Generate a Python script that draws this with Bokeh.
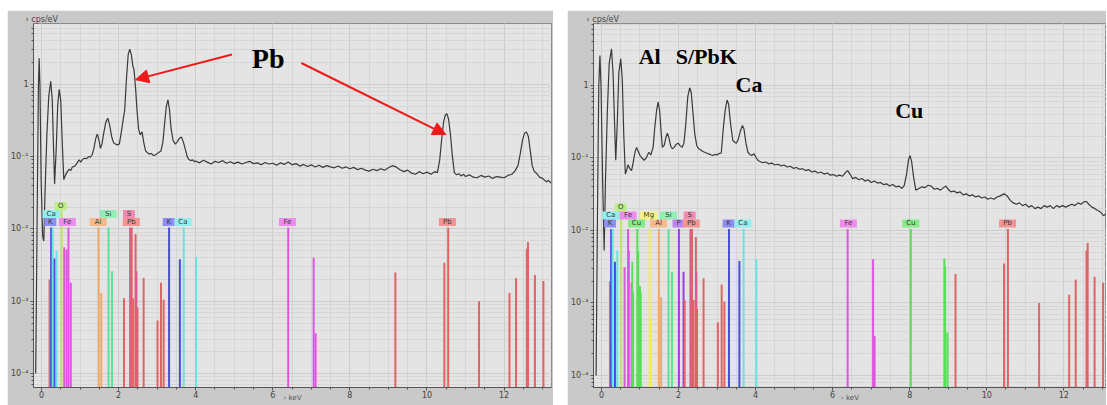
from bokeh.plotting import figure
from bokeh.layouts import row
from bokeh.models import (ColumnDataSource, Range1d, SingleIntervalTicker,
                          CustomJSTickFormatter, Arrow, NormalHead)
from bokeh.core.properties import value
from bokeh.embed import file_html
from bokeh.resources import INLINE

# ---------------- data ----------------
left_energy = [-0.15, -0.11, -0.08, -0.06, -0.04, -0.01, 0.03, 0.06, 0.09, 0.14, 0.19, 0.24, 0.28, 0.31,
               0.34, 0.38, 0.42, 0.46, 0.50, 0.54, 0.58, 0.62, 0.67, 0.72, 0.76, 0.80, 0.85, 0.90, 0.95,
               0.98, 1.02, 1.07, 1.12, 1.17, 1.22, 1.27, 1.32, 1.36, 1.41, 1.45, 1.49, 1.53, 1.57, 1.62,
               1.67, 1.72, 1.77, 1.82, 1.87, 1.92, 1.97, 2.02, 2.06, 2.11, 2.16, 2.20, 2.25, 2.29, 2.33,
               2.37, 2.40, 2.44, 2.48, 2.52, 2.56, 2.61, 2.65, 2.70, 2.75, 2.80, 2.85, 2.90, 2.95, 3.00,
               3.05, 3.10, 3.15, 3.20, 3.24, 3.28, 3.32, 3.36, 3.41, 3.47, 3.52, 3.58, 3.63, 3.68, 3.73,
               3.78, 3.82, 3.87, 3.92, 3.97, 4.0, 4.1, 4.2, 4.3, 4.4, 4.5, 4.6, 4.7, 4.8, 4.9, 5.0, 5.1,
               5.2, 5.3, 5.4, 5.5, 5.6, 5.7, 5.8, 5.9, 6.0, 6.1, 6.2, 6.3, 6.4, 6.5, 6.6, 6.7, 6.8, 6.9,
               7.0, 7.1, 7.2, 7.3, 7.4, 7.5, 7.6, 7.7, 7.8, 7.9, 8.0, 8.1, 8.2, 8.3, 8.4, 8.5, 8.6, 8.7,
               8.8, 8.9, 9.0, 9.1, 9.2, 9.3, 9.4, 9.5, 9.6, 9.7, 9.8, 9.9, 10.0, 10.1, 10.2, 10.27, 10.33,
               10.38, 10.43, 10.48, 10.52, 10.56, 10.61, 10.66, 10.71, 10.77, 10.83, 10.88, 10.95, 11.0,
               11.1, 11.2, 11.3, 11.4, 11.5, 11.6, 11.7, 11.8, 11.9, 12.0, 12.1, 12.2, 12.28, 12.36,
               12.42, 12.48, 12.53, 12.58, 12.63, 12.68, 12.73, 12.78, 12.85, 12.92, 13.0, 13.05, 13.1,
               13.15, 13.22]
left_cps = [0.0001, 0.02, 0.9, 2.3, 1.0, 0.05, 0.008, 0.0068, 0.03, 0.2, 0.7, 1.1, 0.6, 0.15,
            0.042, 0.12, 0.5, 0.85, 0.6, 0.15, 0.048, 0.055, 0.062, 0.067, 0.064, 0.072, 0.073, 0.078, 0.086,
            0.09, 0.084, 0.092, 0.095, 0.094, 0.1, 0.098, 0.108, 0.13, 0.18, 0.205, 0.17, 0.13, 0.15, 0.22,
            0.3, 0.34, 0.27, 0.19, 0.155, 0.149, 0.145, 0.15, 0.2, 0.3, 0.45, 1.1, 2.6, 3.07, 2.6,
            1.8, 1.6, 0.9, 0.42, 0.24, 0.2, 0.22, 0.16, 0.12, 0.113, 0.108, 0.111, 0.104, 0.105, 0.11,
            0.115, 0.12, 0.16, 0.31, 0.5, 0.61, 0.45, 0.25, 0.17, 0.149, 0.16, 0.18, 0.186, 0.16, 0.127,
            0.1, 0.092, 0.088, 0.09, 0.085, 0.087, 0.082, 0.089, 0.084, 0.079, 0.086, 0.083, 0.088, 0.081, 0.085, 0.08, 0.084,
            0.079, 0.083, 0.086, 0.08, 0.082, 0.077, 0.083, 0.079, 0.081, 0.076, 0.082, 0.078, 0.084, 0.077, 0.08, 0.074, 0.078, 0.073,
            0.077, 0.072, 0.076, 0.071, 0.075, 0.072, 0.07, 0.074, 0.069, 0.072, 0.068, 0.071, 0.066, 0.069, 0.065, 0.063, 0.067, 0.064,
            0.068, 0.065, 0.07, 0.075, 0.072, 0.066, 0.062, 0.065, 0.059, 0.057, 0.062, 0.058, 0.061, 0.057, 0.062, 0.06, 0.09,
            0.17, 0.3, 0.38, 0.39, 0.33, 0.2, 0.1, 0.06, 0.056, 0.058, 0.054, 0.057, 0.053,
            0.056, 0.052, 0.051, 0.055, 0.052, 0.054, 0.05, 0.053, 0.052, 0.051, 0.055, 0.057, 0.063, 0.075,
            0.11, 0.17, 0.21, 0.22, 0.19, 0.12, 0.075, 0.063, 0.058, 0.052, 0.05, 0.047, 0.045,
            0.047, 0.043]

right_energy = [-0.14, -0.10, -0.07, -0.04, -0.01, 0.03, 0.07, 0.10, 0.15, 0.20, 0.26, 0.30, 0.34, 0.37,
                0.41, 0.45, 0.50, 0.54, 0.58, 0.62, 0.66, 0.69, 0.73, 0.78, 0.82, 0.87, 0.91, 0.95, 1.0,
                1.05, 1.11, 1.16, 1.23, 1.28, 1.34, 1.38, 1.43, 1.47, 1.51, 1.55, 1.58, 1.63, 1.67, 1.71,
                1.75, 1.80, 1.84, 1.89, 1.94, 1.99, 2.04, 2.09, 2.14, 2.19, 2.24, 2.29, 2.33, 2.37, 2.42,
                2.47, 2.52, 2.57, 2.62, 2.68, 2.74, 2.80, 2.85, 2.89, 2.95, 3.0, 3.05, 3.11, 3.16, 3.21,
                3.26, 3.30, 3.35, 3.41, 3.46, 3.50, 3.55, 3.61, 3.66, 3.70, 3.75, 3.80, 3.85, 3.90, 3.96,
                4.02, 4.06, 4.1, 4.18, 4.26, 4.34, 4.42, 4.5, 4.58, 4.66, 4.74, 4.82, 4.9, 4.98, 5.06,
                5.14, 5.22, 5.3, 5.38, 5.46, 5.54, 5.62, 5.7, 5.78, 5.86, 5.94, 6.02, 6.1, 6.18, 6.26,
                6.32, 6.39, 6.45, 6.52, 6.6, 6.68, 6.76, 6.84, 6.92, 7.0, 7.08, 7.16, 7.24, 7.32, 7.4,
                7.48, 7.56, 7.64, 7.72, 7.8, 7.86, 7.92, 7.97, 8.01, 8.05, 8.1, 8.16, 8.24, 8.32, 8.4,
                8.48, 8.56, 8.64, 8.72, 8.8, 8.88, 8.94, 9.0, 9.07, 9.15, 9.23, 9.31, 9.39, 9.47, 9.55,
                9.63, 9.71, 9.79, 9.87, 9.95, 10.03, 10.11, 10.19, 10.27, 10.35, 10.45, 10.53, 10.61,
                10.69, 10.77, 10.85, 10.93, 11.01, 11.09, 11.17, 11.25, 11.33, 11.41, 11.49, 11.57, 11.65,
                11.73, 11.81, 11.89, 11.97, 12.05, 12.13, 12.21, 12.29, 12.37, 12.45, 12.53, 12.59, 12.65,
                12.73, 12.81, 12.87, 12.95, 13.03, 13.1]
right_cps = [0.0001, 0.03, 1.0, 2.6, 0.9, 0.05, 0.0053, 0.04, 0.4, 2.0, 3.2, 1.5, 0.3, 0.093,
             0.3, 1.5, 2.33, 1.2, 0.2, 0.06, 0.07, 0.081, 0.072, 0.067, 0.085, 0.12, 0.14, 0.125, 0.108,
             0.1, 0.093, 0.1, 0.12, 0.11, 0.14, 0.25, 0.45, 0.59, 0.45, 0.22, 0.14, 0.15, 0.19, 0.22,
             0.19, 0.145, 0.134, 0.14, 0.155, 0.16, 0.148, 0.14, 0.16, 0.3, 0.7, 0.93, 0.8, 0.45, 0.22,
             0.15, 0.134, 0.13, 0.124, 0.12, 0.116, 0.113, 0.11, 0.108, 0.112, 0.11, 0.115, 0.117, 0.25, 0.45,
             0.63, 0.55, 0.3, 0.174, 0.165, 0.16, 0.18, 0.24, 0.28, 0.25, 0.16, 0.12, 0.112, 0.108, 0.114,
             0.1, 0.093, 0.09, 0.086, 0.088, 0.083, 0.085, 0.08, 0.082, 0.078, 0.08, 0.075, 0.077, 0.072, 0.074,
             0.07, 0.071, 0.067, 0.069, 0.064, 0.066, 0.062, 0.064, 0.06, 0.062, 0.058, 0.059, 0.056, 0.058, 0.056,
             0.062, 0.067, 0.06, 0.052, 0.054, 0.05, 0.052, 0.048, 0.05, 0.046, 0.048, 0.045, 0.046, 0.043, 0.044,
             0.041, 0.043, 0.04, 0.041, 0.038, 0.042, 0.06, 0.095, 0.108, 0.09, 0.055, 0.036, 0.038, 0.04, 0.039,
             0.042, 0.041, 0.037, 0.038, 0.036, 0.039, 0.041, 0.037, 0.034, 0.035, 0.033, 0.034, 0.031, 0.032, 0.03,
             0.031, 0.029, 0.03, 0.028, 0.029, 0.027, 0.028, 0.027, 0.029, 0.03, 0.032, 0.03, 0.026,
             0.024, 0.023, 0.024, 0.022, 0.023, 0.021, 0.022, 0.02, 0.021, 0.02, 0.022, 0.021, 0.022,
             0.02, 0.022, 0.021, 0.022, 0.021, 0.022, 0.023, 0.022, 0.024, 0.023, 0.025, 0.025, 0.023,
             0.021, 0.02, 0.019, 0.018, 0.016, 0.017]

# element marker lines: element, energy (keV), relative height (cps/eV)
left_line_elem = ["Pb", "K", "Ca", "K", "Ca", "O", "Fe", "Fe", "Fe", "Fe", "Al", "Al", "Si", "Si",
                  "Pb", "S", "Pb", "Pb", "Pb", "S", "Pb", "Pb", "Pb", "Pb", "Pb", "K", "K", "Ca", "Ca",
                  "Fe", "Fe", "Fe", "Pb", "Pb", "Pb", "Pb", "Pb", "Pb", "Pb", "Pb", "Pb", "Pb"]
left_line_kev = [0.21, 0.25, 0.29, 0.34, 0.39, 0.52, 0.59, 0.65, 0.70, 0.76, 1.48, 1.55, 1.74, 1.83,
                 2.14, 2.30, 2.34, 2.38, 2.44, 2.46, 2.49, 2.65, 3.01, 3.10, 3.17, 3.31, 3.59, 3.69, 4.01,
                 6.40, 7.06, 7.11, 9.18, 10.45, 10.55, 11.35, 12.14, 12.31, 12.59, 12.62, 12.80, 13.02]
left_line_top = [0.002, 0.0105, 0.0105, 0.0039, 0.005, 0.018, 0.0056, 0.0052, 0.0105, 0.0018, 0.0105, 0.0013, 0.0105, 0.0026,
                 0.0011, 0.0105, 0.0105, 0.0011, 0.0085, 0.0026, 0.00082, 0.0021, 0.00054, 0.0018, 0.00105, 0.0105, 0.0038, 0.0105, 0.0041,
                 0.0105, 0.004, 0.00036, 0.0025, 0.0034, 0.0105, 0.001, 0.0013, 0.0021, 0.0053, 0.0066, 0.0023, 0.0019]

right_line_elem = ["Pb", "K", "Ca", "K", "Ca", "O", "Fe", "Fe", "Fe", "Fe", "Cu", "Cu", "Cu", "Cu", "Cu", "Cu",
                   "Mg", "Mg", "Al", "Al", "Si", "Si", "P", "P", "Pb", "S", "Pb", "Pb", "Pb", "S", "Pb", "Pb",
                   "Pb", "Pb", "Pb", "K", "K", "Ca", "Ca", "Fe", "Fe", "Fe", "Cu", "Cu", "Cu", "Cu",
                   "Pb", "Pb", "Pb", "Pb", "Pb", "Pb", "Pb", "Pb", "Pb", "Pb"]
right_line_kev = [0.22, 0.25, 0.29, 0.35, 0.41, 0.51, 0.60, 0.69, 0.71, 0.78, 0.80, 0.82, 0.93, 0.95, 1.00, 1.02,
                  1.25, 1.28, 1.49, 1.55, 1.74, 1.83, 2.01, 2.13, 2.16, 2.31, 2.35, 2.39, 2.45, 2.46, 2.48, 2.65,
                  3.02, 3.12, 3.19, 3.31, 3.58, 3.69, 4.02, 6.39, 7.05, 7.09, 8.03, 8.90, 8.92, 8.98,
                  9.19, 10.45, 10.55, 11.36, 12.14, 12.31, 12.59, 12.62, 12.80, 13.02]
right_line_top = [0.002, 0.0105, 0.0105, 0.0037, 0.0053, 0.019, 0.0031, 0.0105, 0.0053, 0.0019, 0.0037, 0.0014, 0.0105, 0.0052, 0.0017, 0.0014,
                  0.0105, 0.00061, 0.0105, 0.0012, 0.0105, 0.0027, 0.0105, 0.0027, 0.0011, 0.0105, 0.0105, 0.0011, 0.0081, 0.0027, 0.00084, 0.0022,
                  0.00054, 0.0018, 0.00105, 0.0105, 0.0038, 0.0105, 0.004, 0.0105, 0.004, 0.00035, 0.0105, 0.0041, 0.0032, 0.00039,
                  0.0025, 0.0035, 0.0105, 0.001, 0.0013, 0.0021, 0.0053, 0.0067, 0.0023, 0.0019]

# element tags: element, energy, stacking row
left_tag_elem = ["O", "Ca", "K", "Fe", "Al", "Si", "S", "Pb", "K", "Ca", "Fe", "Pb"]
left_tag_kev = [0.50, 0.25, 0.23, 0.67, 1.47, 1.73, 2.27, 2.33, 3.30, 3.67, 6.38, 10.53]
left_tag_row = [2, 1, 0, 0, 0, 1, 1, 0, 0, 0, 0, 0]

right_tag_elem = ["O", "Ca", "Fe", "Mg", "Si", "S", "K", "Cu", "Al", "P", "Pb", "K", "Ca", "Fe", "Cu", "Pb"]
right_tag_kev = [0.50, 0.24, 0.69, 1.23, 1.74, 2.29, 0.22, 0.91, 1.48, 2.00, 2.33, 3.30, 3.67, 6.41, 8.03, 10.54]
right_tag_row = [2, 1, 1, 1, 1, 1, 0, 0, 0, 0, 0, 0, 0, 0, 0, 0]

# annotations
left_note_text = ["Pb"]
left_note_kev = [5.88]
left_note_cps = [2.25]
left_arrow_start = [(4.94, 2.59), (6.74, 1.97)]
left_arrow_end = [(2.44, 1.16), (10.49, 0.202)]

right_note_text = ["Al", "S/PbK", "Ca", "Cu"]
right_note_kev = [1.25, 2.72, 3.83, 7.99]
right_note_cps = [2.51, 2.51, 1.03, 0.45]

# ---------------- styling ----------------
LINE_COLOR = {"K": "#4b4be0", "Ca": "#66e3e3", "O": "#bde36a", "Fe": "#e055e0", "Al": "#f0a866",
              "Si": "#5ee09a", "S": "#e0558e", "Pb": "#e06464", "Cu": "#55e055", "Mg": "#f0ee55",
              "P": "#9a3ee6"}
TAG_FILL = {"K": "#8e8ef2", "Ca": "#92eeee", "O": "#bcee84", "Fe": "#ee8cee", "Al": "#f5bb8c",
            "Si": "#92edb6", "S": "#f08cb2", "Pb": "#f09494", "Cu": "#84ec84", "Mg": "#f5f27e",
            "P": "#bb84f2"}
ROW_CPS = [10 ** -1.903, 10 ** -1.793, 10 ** -1.683]
FIG_H = 395

sup = CustomJSTickFormatter(code="""
const e = Math.round(Math.log10(tick));
if (e === 0) { return "1"; }
const m = {"-": "\u207b", "0": "\u2070", "1": "\u00b9", "2": "\u00b2", "3": "\u00b3", "4": "\u2074", "5": "\u2075"};
return "10" + String(e).split("").map(c => m[c]).join("");
""")


def panel(width, min_left, min_right, min_top, title_offset, xr, yr, energy, cps, l_elem, l_kev, l_top,
          t_elem, t_kev, t_row, n_text, n_kev, n_cps, n_size):
    p = figure(width=width, height=FIG_H, x_range=Range1d(*xr), y_range=Range1d(*yr),
               y_axis_type="log", output_backend="svg", toolbar_location=None,
               min_border_left=min_left, min_border_right=min_right,
               min_border_top=min_top, min_border_bottom=18)
    p.border_fill_color = "#c9c9c9"
    p.background_fill_color = "#e4e4e4"
    p.outline_line_color = "#8a8a8a"

    p.title.text = "\u203a cps/eV"
    p.title.align = "left"
    p.title.offset = title_offset
    p.title.standoff = 0
    p.title.text_font_size = "8px"
    p.title.text_font_style = "normal"
    p.title.text_font = "DejaVu Sans"
    p.title.text_color = "#444444"

    p.xaxis.ticker = SingleIntervalTicker(interval=2, num_minor_ticks=4)
    p.xaxis.axis_label = "\u203a keV"
    p.xaxis.axis_label_text_font_size = "7px"
    p.xaxis.axis_label_text_font_style = "normal"
    p.xaxis.axis_label_text_font = "DejaVu Sans"
    p.xaxis.axis_label_text_color = "#555555"
    p.xaxis.axis_label_standoff = -7
    p.xgrid.grid_line_color = "#cdcdcd"
    p.xgrid.minor_grid_line_color = "#d5d5d5"
    p.ygrid.grid_line_color = "#cdcdcd"
    p.ygrid.minor_grid_line_color = "#d6d6d6"
    p.yaxis.formatter = sup
    for ax in (p.xaxis[0], p.yaxis[0]):
        ax.axis_line_color = "#555555"
        ax.major_tick_line_color = "#555555"
        ax.minor_tick_line_color = "#555555"
        ax.major_tick_out = 3
        ax.major_tick_in = 0
        ax.minor_tick_out = 2
        ax.minor_tick_in = 0
        ax.major_label_text_font_size = "8px"
        ax.major_label_text_color = "#444444"
        ax.major_label_text_font = "DejaVu Sans"
    p.xaxis.major_label_standoff = 0
    p.yaxis.major_label_standoff = 2

    # element marker lines
    ls = ColumnDataSource(dict(x=l_kev, y0=[1e-6] * len(l_kev), y1=l_top,
                               c=[LINE_COLOR[e] for e in l_elem]))
    p.segment(x0="x", y0="y0", x1="x", y1="y1", line_color="c", line_width=2, source=ls)

    # spectrum
    p.line(energy, cps, line_color="#3a3a3a", line_width=1.2)

    # element tags
    ts = ColumnDataSource(dict(x=t_kev, y=[ROW_CPS[r] for r in t_row], t=t_elem,
                               f=[TAG_FILL[e] for e in t_elem],
                               w=[7 + 5 * len(e) for e in t_elem]))
    p.rect(x="x", y="y", width="w", height=8, width_units="screen", height_units="screen",
           fill_color="f", line_color=None, source=ts)
    p.text(x="x", y="y", text="t", text_align="center", text_baseline="middle",
           text_font_size="7px", text_color="#3a3a3a", text_font=value("DejaVu Sans"), source=ts)

    # bold annotations
    p.text(x=n_kev, y=n_cps, text=n_text, text_align="center", text_baseline="middle",
           text_font=value("Liberation Serif"), text_font_style="bold",
           text_font_size=n_size, text_color="#000000")
    return p


p1 = panel(546, 24, 2, 12, -8, (-0.207, 13.23), (10 ** -4.193, 10 ** 0.841),
           left_energy, left_cps, left_line_elem, left_line_kev, left_line_top,
           left_tag_elem, left_tag_kev, left_tag_row,
           left_note_text, left_note_kev, left_note_cps, "28px")
for (xs, ys), (xe, ye) in zip(left_arrow_start, left_arrow_end):
    p1.add_layout(Arrow(x_start=xs, y_start=ys, x_end=xe, y_end=ye, line_color="#ee1a1a",
                        line_width=2, end=NormalHead(size=13, fill_color="#ee1a1a", line_color="#ee1a1a")))

p2 = panel(539, 25, 0, 13, -7, (-0.207, 13.109), (10 ** -4.166, 10 ** 0.855),
           right_energy, right_cps, right_line_elem, right_line_kev, right_line_top,
           right_tag_elem, right_tag_kev, right_tag_row,
           right_note_text, right_note_kev, right_note_cps, "22px")

layout = row(p1, p2, spacing=14, margin=(10, 0, 0, 7))
open("out.html", "w").write(file_html(layout, INLINE))
